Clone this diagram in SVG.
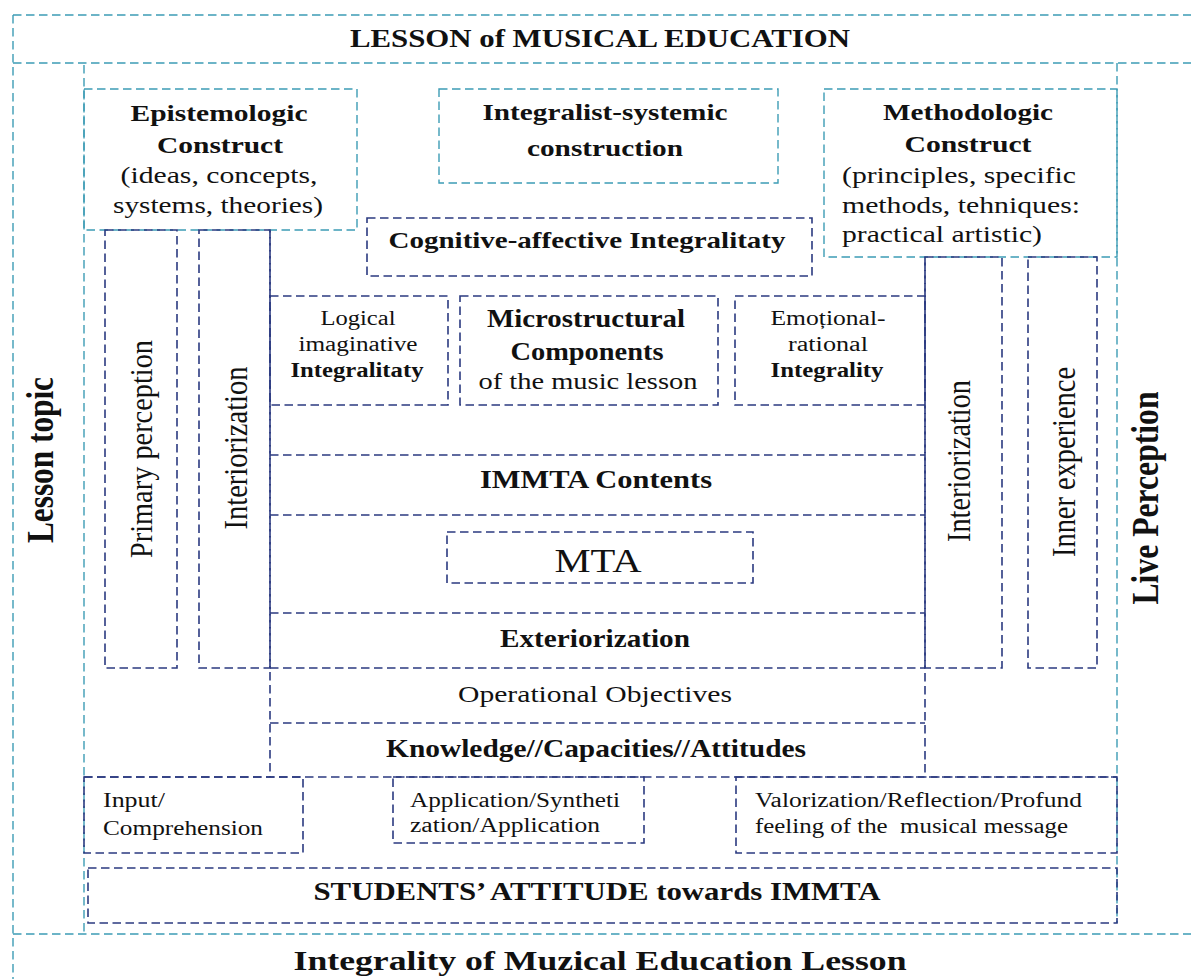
<svg xmlns="http://www.w3.org/2000/svg" width="1191" height="979" viewBox="0 0 1191 979">
  <style>
    .t { fill: none; stroke: #3d9cb5; stroke-width: 1.4; stroke-dasharray: 8.5 4.5; }
    .n { fill: none; stroke: #2b3a80; stroke-width: 1.6; stroke-dasharray: 8.5 4.5; }
    text { font-family: "Liberation Serif", "Times New Roman", serif; fill: #111111; }
    .b { font-weight: bold; }
    .c { text-anchor: middle; }
  </style>
  <rect x="0" y="0" width="1191" height="979" fill="#ffffff"/>

  <!-- outer frame and band separators -->
  <g id="frame">
    <line class="t" x1="13" y1="15" x2="1191" y2="15"/>
    <line class="t" x1="13" y1="15" x2="13" y2="979"/>
    <line class="t" x1="13" y1="63" x2="1191" y2="63"/>
    <line class="t" x1="13" y1="934" x2="1191" y2="934"/>
    <line class="t" x1="84" y1="65" x2="84" y2="934"/>
    <line class="t" x1="1117" y1="63" x2="1117" y2="923"/>
  </g>

  <!-- inner rules of the central column -->
  <g id="connectors">
    <line class="n" x1="270" y1="230" x2="270" y2="777"/>
    <line class="n" x1="925" y1="257" x2="925" y2="777"/>
    <line class="n" x1="270" y1="455" x2="925" y2="455"/>
    <line class="n" x1="270" y1="515" x2="925" y2="515"/>
    <line class="n" x1="270" y1="613" x2="925" y2="613"/>
    <line class="n" x1="270" y1="668" x2="925" y2="668"/>
    <line class="n" x1="270" y1="723" x2="925" y2="723"/>
    <line class="n" x1="84" y1="777" x2="1117" y2="777"/>
  </g>

  <g id="title">
    <text class="b c" x="600" y="47" font-size="25" textLength="500" lengthAdjust="spacingAndGlyphs">LESSON of MUSICAL EDUCATION</text>
  </g>

  <g id="lesson-topic">
    <text class="b c" font-size="31" textLength="166" lengthAdjust="spacingAndGlyphs" transform="translate(53,460) scale(1.2,1) rotate(-90)">Lesson topic</text>
  </g>

  <g id="live-perception">
    <text class="b c" font-size="31" textLength="213" lengthAdjust="spacingAndGlyphs" transform="translate(1158,498) scale(1.2,1) rotate(-90)">Live Perception</text>
  </g>

  <g id="epistemologic">
    <rect class="t" x="84" y="89" width="273" height="141"/>
    <text class="b c" x="219" y="121" font-size="24" textLength="177" lengthAdjust="spacingAndGlyphs">Epistemologic</text>
    <text class="b c" x="220" y="153" font-size="24" textLength="126" lengthAdjust="spacingAndGlyphs">Construct</text>
    <text class="c" x="219" y="183" font-size="23" textLength="197" lengthAdjust="spacingAndGlyphs">(ideas, concepts,</text>
    <text class="c" x="218" y="213" font-size="23" textLength="210" lengthAdjust="spacingAndGlyphs">systems, theories)</text>
  </g>

  <g id="integralist">
    <rect class="t" x="439" y="89" width="339" height="94"/>
    <text class="b c" x="605" y="120" font-size="24" textLength="245" lengthAdjust="spacingAndGlyphs">Integralist-systemic</text>
    <text class="b c" x="605" y="156" font-size="24" textLength="156" lengthAdjust="spacingAndGlyphs">construction</text>
  </g>

  <g id="methodologic">
    <rect class="t" x="824" y="89" width="293" height="168"/>
    <text class="b c" x="968" y="120" font-size="24" textLength="170" lengthAdjust="spacingAndGlyphs">Methodologic</text>
    <text class="b c" x="968" y="152" font-size="24" textLength="127" lengthAdjust="spacingAndGlyphs">Construct</text>
    <text x="842" y="183" font-size="23" textLength="234" lengthAdjust="spacingAndGlyphs">(principles, specific</text>
    <text x="842" y="213" font-size="23" textLength="238" lengthAdjust="spacingAndGlyphs">methods, tehniques:</text>
    <text x="842" y="242" font-size="23" textLength="200" lengthAdjust="spacingAndGlyphs">practical artistic)</text>
  </g>

  <g id="cognitive-affective">
    <rect class="n" x="367" y="218" width="445" height="58"/>
    <text class="b c" x="587" y="248" font-size="24" textLength="397" lengthAdjust="spacingAndGlyphs">Cognitive-affective Integralitaty</text>
  </g>

  <g id="primary-perception">
    <rect class="n" x="105" y="230" width="72" height="438"/>
    <text class="c" font-size="27" textLength="218" lengthAdjust="spacingAndGlyphs" transform="translate(152,449) scale(1.2,1) rotate(-90)">Primary perception</text>
  </g>

  <g id="interiorization-left">
    <rect class="n" x="199" y="230" width="71" height="438"/>
    <text class="c" font-size="28" textLength="163" lengthAdjust="spacingAndGlyphs" transform="translate(247,448) scale(1.2,1) rotate(-90)">Interiorization</text>
  </g>

  <g id="interiorization-right">
    <rect class="n" x="925" y="257" width="77" height="411"/>
    <text class="c" font-size="28" textLength="162" lengthAdjust="spacingAndGlyphs" transform="translate(970,461) scale(1.2,1) rotate(-90)">Interiorization</text>
  </g>

  <g id="inner-experience">
    <rect class="n" x="1028" y="257" width="69" height="411"/>
    <text class="c" font-size="28" textLength="190" lengthAdjust="spacingAndGlyphs" transform="translate(1075,462) scale(1.2,1) rotate(-90)">Inner experience</text>
  </g>

  <g id="logical-imaginative">
    <rect class="n" x="270" y="296" width="178" height="109"/>
    <text class="c" x="358" y="325" font-size="20" textLength="75" lengthAdjust="spacingAndGlyphs">Logical</text>
    <text class="c" x="358" y="351" font-size="20" textLength="119" lengthAdjust="spacingAndGlyphs">imaginative</text>
    <text class="b c" x="357" y="377" font-size="20" textLength="133" lengthAdjust="spacingAndGlyphs">Integralitaty</text>
  </g>

  <g id="microstructural">
    <rect class="n" x="460" y="296" width="258" height="109"/>
    <text class="b c" x="586" y="327" font-size="25" textLength="198" lengthAdjust="spacingAndGlyphs">Microstructural</text>
    <text class="b c" x="587" y="360" font-size="25" textLength="153" lengthAdjust="spacingAndGlyphs">Components</text>
    <text class="c" x="588" y="389" font-size="23" textLength="219" lengthAdjust="spacingAndGlyphs">of the music lesson</text>
  </g>

  <g id="emotional-rational">
    <rect class="n" x="735" y="296" width="190" height="109"/>
    <text class="c" x="828" y="325" font-size="20" textLength="115" lengthAdjust="spacingAndGlyphs">Emoțional-</text>
    <text class="c" x="828" y="351" font-size="20" textLength="80" lengthAdjust="spacingAndGlyphs">rational</text>
    <text class="b c" x="827" y="377" font-size="20" textLength="113" lengthAdjust="spacingAndGlyphs">Integrality</text>
  </g>

  <g id="immta-contents">
    <text class="b c" x="596" y="488" font-size="25" textLength="232" lengthAdjust="spacingAndGlyphs">IMMTA Contents</text>
  </g>

  <g id="mta">
    <rect class="n" x="447" y="532" width="306" height="51"/>
    <text class="c" x="598" y="572" font-size="33" textLength="87" lengthAdjust="spacingAndGlyphs">MTA</text>
  </g>

  <g id="exteriorization">
    <text class="b c" x="595" y="647" font-size="25" textLength="190" lengthAdjust="spacingAndGlyphs">Exteriorization</text>
  </g>

  <g id="operational-objectives">
    <text class="c" x="595" y="702" font-size="24" textLength="274" lengthAdjust="spacingAndGlyphs">Operational Objectives</text>
  </g>

  <g id="knowledge">
    <text class="b c" x="596" y="757" font-size="25" textLength="420" lengthAdjust="spacingAndGlyphs">Knowledge//Capacities//Attitudes</text>
  </g>

  <g id="input-comprehension">
    <rect class="n" x="84" y="777" width="219" height="76"/>
    <text x="103" y="807" font-size="20" textLength="62" lengthAdjust="spacingAndGlyphs">Input/</text>
    <text x="103" y="835" font-size="20" textLength="160" lengthAdjust="spacingAndGlyphs">Comprehension</text>
  </g>

  <g id="application">
    <rect class="n" x="393" y="777" width="251" height="66"/>
    <text x="410" y="807" font-size="20" textLength="210" lengthAdjust="spacingAndGlyphs">Application/Syntheti</text>
    <text x="410" y="832" font-size="20" textLength="190" lengthAdjust="spacingAndGlyphs">zation/Application</text>
  </g>

  <g id="valorization">
    <rect class="n" x="736" y="777" width="381" height="76"/>
    <text x="755" y="807" font-size="20" textLength="327" lengthAdjust="spacingAndGlyphs">Valorization/Reflection/Profund</text>
    <text x="755" y="833" font-size="20" textLength="313" lengthAdjust="spacingAndGlyphs" xml:space="preserve">feeling of the  musical message</text>
  </g>

  <g id="students-attitude">
    <rect class="n" x="88" y="868" width="1029" height="55"/>
    <text class="b c" x="597" y="900" font-size="25" textLength="567" lengthAdjust="spacingAndGlyphs">STUDENTS’ ATTITUDE towards IMMTA</text>
  </g>

  <g id="integrality-lesson">
    <text class="b c" x="600" y="970" font-size="28" textLength="613" lengthAdjust="spacingAndGlyphs">Integrality of Muzical Education Lesson</text>
  </g>
</svg>
